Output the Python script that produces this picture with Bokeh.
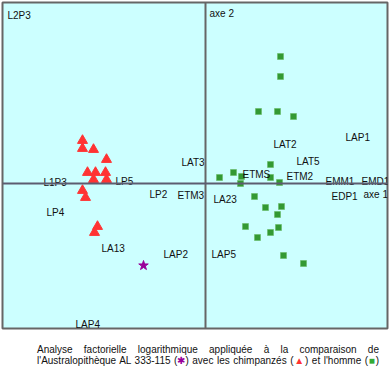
from bokeh.plotting import figure
from bokeh.models import Span, Div, ColumnDataSource
from bokeh.layouts import column
from bokeh.core.properties import value
from bokeh.embed import file_html
from bokeh.resources import INLINE

# Chimpanzés (triangles) : axe 1, axe 2
chimp_x = [-1.23, -1.23, -1.12, -0.99, -1.18, -1.10, -1.00, -1.12, -0.99, -1.23, -1.20, -1.08, -1.11]
chimp_y = [0.43, 0.35, 0.34, 0.24, 0.11, 0.11, 0.11, 0.04, 0.04, -0.07, -0.14, -0.43, -0.49]

# Homme (carrés)
homme_x = [0.75, 0.75, 0.53, 0.72, 0.88, 0.65, 0.28, 0.14, 0.36, 0.65, 0.35,
           0.74, 0.49, 0.76, 0.60, 0.72, 0.40, 0.73, 0.65, 0.52, 0.78, 0.98]
homme_y = [1.27, 1.07, 0.72, 0.72, 0.67, 0.19, 0.11, 0.06, 0.07, 0.06, 0.00,
           0.01, -0.13, -0.23, -0.24, -0.31, -0.43, -0.44, -0.49, -0.54, -0.72, -0.80]

# Australopithèque AL 333-115 (étoile)
al_x = [-0.62]
al_y = [-0.82]

# Variables (étiquettes)
var_names = ["L2P3", "LAT2", "LAP1", "LAT3", "LAT5", "ETMS", "ETM2", "EMM1", "EMD1",
             "EDP1", "LA23", "LAP5", "L1P3", "LP5", "LP2", "ETM3", "LP4", "LA13",
             "LAP2", "LAP4"]
var_x = [-1.98, 0.68, 1.40, -0.24, 0.91, 0.37, 0.81, 1.20, 1.56,
         1.26, 0.08, 0.06, -1.62, -0.90, -0.56, -0.28, -1.59, -1.04,
         -0.42, -1.30]
var_y = [1.68, 0.39, 0.46, 0.21, 0.22, 0.09, 0.07, 0.02, 0.02,
         -0.13, -0.16, -0.71, 0.01, 0.02, -0.11, -0.12, -0.29, -0.65,
         -0.71, -1.41]

axis_names = ["axe 2", "axe 1"]
axis_x = [0.04, 1.58]
axis_y = [1.70, -0.11]

FONT = "Liberation Sans"

p = figure(width=389, height=330, x_range=(-2.03, 1.82), y_range=(-1.45, 1.81),
           output_backend="svg", toolbar_location=None,
           x_axis_location=None, y_axis_location=None,
           min_border_left=2, min_border_right=2, min_border_top=2, min_border_bottom=2)
p.grid.visible = False
p.background_fill_color = "#ccffff"
p.border_fill_color = "white"
p.outline_line_color = "#666666"
p.outline_line_width = 2

p.add_layout(Span(location=0, dimension="height", line_color="#666666", line_width=2))
p.add_layout(Span(location=0, dimension="width", line_color="#5c5c70", line_width=2))

p.scatter(chimp_x, chimp_y, marker="triangle", size=10, fill_color="#ff3333", line_color="#ff3333")
p.scatter(homme_x, homme_y, marker="square", size=6, fill_color="#339933", line_color="#66bb66", line_width=0.6)
p.scatter(al_x, al_y, marker="star", size=10, fill_color="#990099", line_color="#990099")

src = ColumnDataSource(dict(x=var_x + axis_x, y=var_y + axis_y, t=var_names + axis_names))
p.text(x="x", y="y", text="t", source=src, text_font=value(FONT), text_font_size="10px",
       text_color="#111111", text_align="left", text_baseline="alphabetic")

caption = Div(width=389, height=40, text=(
    "<div style=\"font-family:'Liberation Sans',Arial,sans-serif;font-size:10px;line-height:11px;"
    "color:#111;width:342px;margin-left:32px;padding-top:9px\">"
    "<div style='text-align:justify;text-align-last:justify'>Analyse factorielle logarithmique appliquée à la comparaison de</div>"
    "<div style='text-align:justify;text-align-last:justify'>l'Australopithèque AL 333-115 "
    "(<span style='color:#990099'>✱</span>) avec les chimpanzés "
    "(<span style='color:#ff3333'>▲</span>) et l'homme "
    "(<span style='color:#33aa33'>■</span>)</div></div>"))

layout = column(p, caption)
open("out.html", "w").write(file_html(layout, INLINE))
